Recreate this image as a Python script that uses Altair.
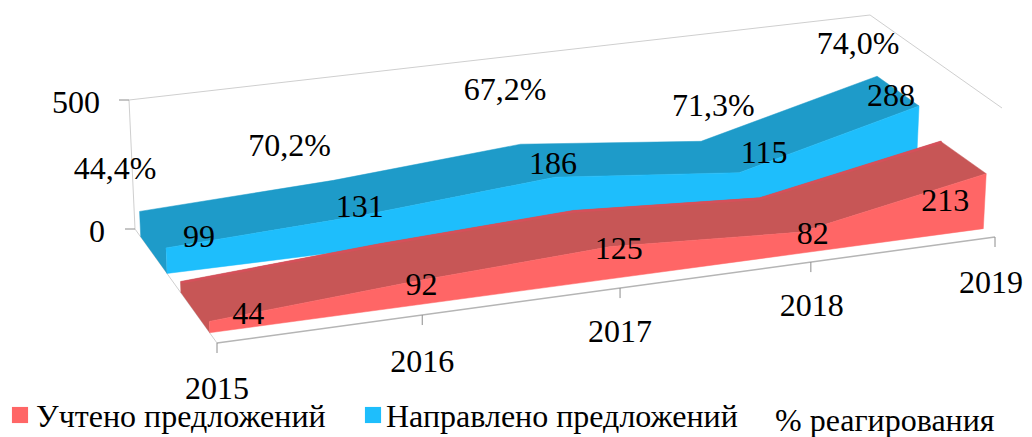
import altair as alt
import pandas as pd

# ---- chart values ----
years = ["2015", "2016", "2017", "2018", "2019"]
uchteno = [44, 92, 125, 82, 213]
napravleno = [99, 131, 186, 115, 288]
percent = ["44,4%", "70,2%", "67,2%", "71,3%", "74,0%"]
axis_values = [0, 500]
legend_names = ["Учтено предложений", "Направлено предложений", "% реагирования"]

# ---- colours ----
RED_FRONT, RED_TOP, RED_EDGE = "#FF6666", "#C75656", "#D5505A"
BLUE_FRONT, BLUE_TOP = "#1EBEFC", "#1E9BC9"
WALL, TICK = "#CFCFCF", "#8C8C8C"

# ---- 3-D box projection (the scene's camera) ----
FL, FR, BL, BR = (217, 343), (995, 237), (135, 229), (865, 144)
K = 1.075           # perspective along the category axis
PX_PER_UNIT = 129 / 500


def project(i, v=0.0, d=0.0):
    t = i / (len(years) - 1)
    s = K * t / (1 + (K - 1) * t)
    fx, fy = FL[0] + (FR[0] - FL[0]) * s, FL[1] + (FR[1] - FL[1]) * s
    bx, by = BL[0] + (BR[0] - BL[0]) * s, BL[1] + (BR[1] - BL[1]) * s
    x, y = fx + (bx - fx) * d, fy + (by - fy) * d
    lean = -6 + 13 * (x - BL[0]) / (FR[0] - BL[0])
    return x + lean * v / 500, y - v * PX_PER_UNIT


X = alt.X("x:Q", scale=alt.Scale(domain=[8, 1024]), axis=None)
Y = alt.Y("y:Q", scale=alt.Scale(domain=[437, 8]), axis=None)


def poly(pts, fill=None, stroke=None, width=1.0):
    df = pd.DataFrame([{"x": p[0], "y": p[1], "k": n} for n, p in enumerate(pts)])
    kw = {"fill": fill} if fill else {}
    return alt.Chart(df).mark_line(
        stroke=stroke or fill, strokeWidth=width, **kw
    ).encode(x=X, y=Y, order="k:Q")


def band(values, d0, d1, front, top):
    n = range(len(values))
    ft = [project(i, values[i], d0) for i in n]
    bt = [project(i, values[i], d1) for i in n]
    fb = [project(i, 0, d0) for i in n]
    side = [project(0, 0, d1)] + bt + ft[::-1] + [project(0, 0, d0)]
    face = ft + fb[::-1]
    return [poly(side, top, top, 0.5), poly(face, front, front, 0.5)]


def labels(texts, anchors, nudges, size=32, align="center"):
    df = pd.DataFrame([
        {"x": a[0] + n[0], "y": a[1] + n[1], "t": str(t)}
        for t, a, n in zip(texts, anchors, nudges)
    ])
    return alt.Chart(df).mark_text(
        font="Liberation Serif", fontSize=size, align=align, baseline="middle", color="black"
    ).encode(x=X, y=Y, text="t:N")


n = range(len(years))
corner_top = project(len(years) - 1, 500, 1)
layers = [
    poly([project(0, 0, 1), project(0, 500, 1), corner_top,
          project(len(years) - 1, 500, 0)], stroke=WALL),
    poly([project(0, 0, 0), project(0, 0, 1)], stroke=WALL),
    poly([project(0, 0, 0), project(len(years) - 1, 0, 0)], stroke="#B5B5B5", width=1.5),
]
for i in n:
    px, py = project(i)
    layers.append(poly([(px, py), (px, py + 10)], stroke=TICK))
for v in axis_values:
    px, py = project(0, v, 1)
    layers.append(poly([(px - 10, py), (px, py)], stroke=TICK))

layers += band(napravleno, 0.61, 0.93, BLUE_FRONT, BLUE_TOP)
layers += band(uchteno, 0.09, 0.44, RED_FRONT, RED_TOP)
layers.append(poly([project(i, uchteno[i], 0.43) for i in n], stroke=RED_EDGE, width=2.5))

# text
layers.append(labels(axis_values, [project(0, v, 1) for v in axis_values], [(-38, 3), (-53, 3)]))
layers.append(labels(years, [project(i) for i in n],
                     [(0, 46), (0, 47), (0, 44), (1, 44), (-4, 46)]))
layers.append(labels(uchteno, [project(i, uchteno[i], 0.09) for i in n],
                     [(39, -7), (8, 3), (8, 2), (12, 2), (-41, 27)]))
layers.append(labels(napravleno, [project(i, napravleno[i], 0.61) for i in n],
                     [(33, -11), (-4, -8), (-2, -13), (25, -20), (-28, -10)]))
layers.append(labels(percent, [project(i, 0, 1) for i in n],
                     [(-20, -60), (-38, -61), (-8, -95), (21, -58), (-7, -100)]))

# legend
legend_sw = pd.DataFrame({"x": [20, 373], "y": [415, 415], "c": [RED_FRONT, BLUE_FRONT]})
layers.append(alt.Chart(legend_sw).mark_square(size=260, opacity=1).encode(
    x=X, y=Y, color=alt.Color("c:N", scale=None)))
layers.append(labels(legend_names, [(36, 417), (386, 417), (775, 421)], [(0, 0)] * 3,
                     size=32, align="left"))

chart = alt.layer(*layers).properties(
    width=1016, height=429, padding=0,
    autosize=alt.AutoSizeParams(type="none"),
).configure_view(strokeWidth=0)

chart.save("out.html", embed_options={"renderer": "svg", "actions": False})
